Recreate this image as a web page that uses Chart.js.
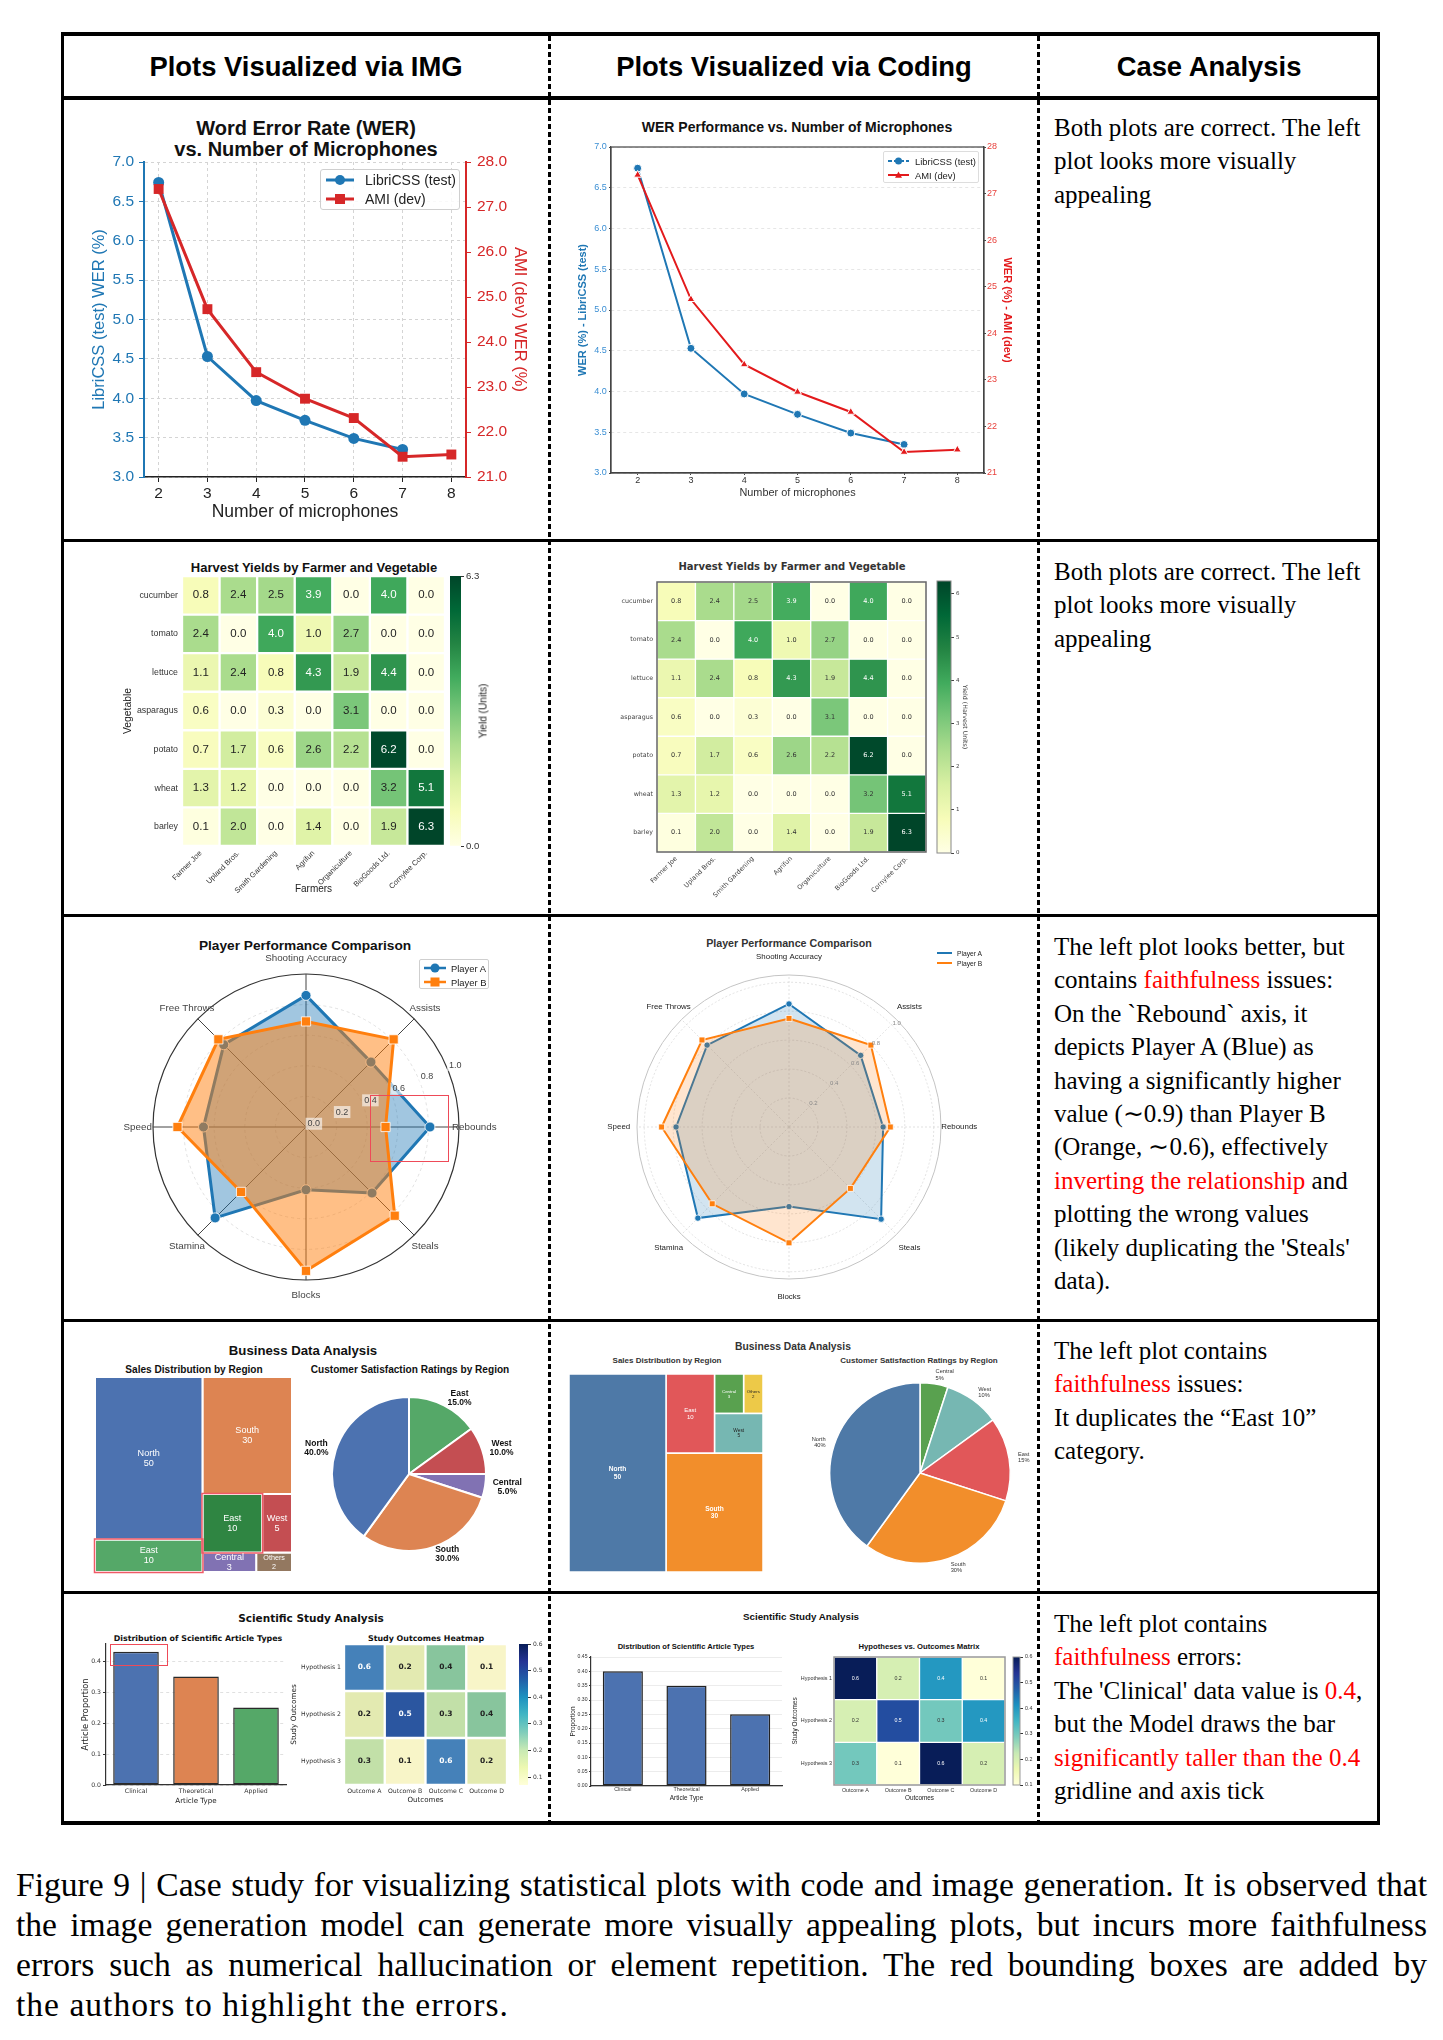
<!DOCTYPE html>
<html>
<head>
<meta charset="utf-8">
<title>Figure 9 - Case study</title>
<script src="https://cdn.jsdelivr.net/npm/chart.js"></script>
<style>
  html, body { margin: 0; padding: 0; background: #fff; }
  body { position: relative; width: 1443px; height: 2040px; overflow: hidden; font-family: 'Liberation Sans', Arial, sans-serif; color: #111; }
  .rule { position: absolute; background: #000; }
  .dash { position: absolute; width: 3px; background: repeating-linear-gradient(to bottom, #000 0 5px, transparent 5px 8px); }
  .t { position: absolute; white-space: nowrap; transform: translate(-50%, -50%); text-align: center; }
  .head { font: bold 27.4px 'Liberation Sans', Arial, sans-serif; color: #000; }
  .note { position: absolute; left: 1054px; font: 25px/33.4px 'Liberation Serif', 'Times New Roman', serif; color: #000; white-space: nowrap; }
  .r { color: #f00; }
  .cap { position: absolute; left: 16px; top: 1865px; width: 1411px; font: 33.6px/40px 'Liberation Serif', 'Times New Roman', serif; color: #000; }
  .cap div { text-align: justify; text-align-last: justify; }
  .cap div.last { text-align-last: left; letter-spacing: 1px; }
  .hi { position: absolute; border: 1.5px solid #ee4a58; box-sizing: border-box; }
  .lg { position: absolute; box-sizing: border-box; }
</style>
</head>
<body>

<!-- table rules -->
<div class="rule" style="left:61px;top:32px;width:1319px;height:4px"></div>
<div class="rule" style="left:61px;top:96px;width:1319px;height:4px"></div>
<div class="rule" style="left:61px;top:539px;width:1319px;height:3px"></div>
<div class="rule" style="left:61px;top:914px;width:1319px;height:3px"></div>
<div class="rule" style="left:61px;top:1319px;width:1319px;height:3px"></div>
<div class="rule" style="left:61px;top:1591px;width:1319px;height:3px"></div>
<div class="rule" style="left:61px;top:1821px;width:1319px;height:4px"></div>
<div class="rule" style="left:61px;top:32px;width:3px;height:1793px"></div>
<div class="rule" style="left:1377px;top:32px;width:3px;height:1793px"></div>
<div class="dash" style="left:548px;top:36px;height:1785px"></div>
<div class="dash" style="left:1037px;top:36px;height:1785px"></div>

<!-- header -->
<div class="t head" style="left:306px;top:67px">Plots Visualized via IMG</div>
<div class="t head" style="left:794px;top:67px">Plots Visualized via Coding</div>
<div class="t head" style="left:1209px;top:67px">Case Analysis</div>

<!-- case analysis column -->
<div class="note" style="top:111px">Both plots are correct. The left<br>plot looks more visually<br>appealing</div>
<div class="note" style="top:555px">Both plots are correct. The left<br>plot looks more visually<br>appealing</div>
<div class="note" style="top:930px">The left plot looks better, but<br>contains <span class="r">faithfulness</span> issues:<br>On the `Rebound` axis, it<br>depicts Player A (Blue) as<br>having a significantly higher<br>value (∼0.9) than Player B<br>(Orange, ∼0.6), effectively<br><span class="r">inverting the relationship</span> and<br>plotting the wrong values<br>(likely duplicating the 'Steals'<br>data).</div>
<div class="note" style="top:1334px">The left plot contains<br><span class="r">faithfulness</span> issues:<br>It duplicates the “East 10”<br>category.</div>
<div class="note" style="top:1607px">The left plot contains<br><span class="r">faithfulness</span> errors:<br>The 'Clinical' data value is <span class="r">0.4</span>,<br>but the Model draws the bar<br><span class="r">significantly taller than the 0.4</span><br>gridline and axis tick</div>

<!-- caption -->
<div class="cap">
  <div>Figure 9 | Case study for visualizing statistical plots with code and image generation. It is observed that</div>
  <div>the image generation model can generate more visually appealing plots, but incurs more faithfulness</div>
  <div>errors such as numerical hallucination or element repetition. The red bounding boxes are added by</div>
  <div class="last">the authors to highlight the errors.</div>
</div>

<script>
// ---------- data ----------
// row 1: WER vs number of microphones
const mics = [2, 3, 4, 5, 6, 7, 8];
const libriWer = [6.74, 4.53, 3.97, 3.72, 3.49, 3.35, null];
const amiWer = [27.40, 24.73, 23.33, 22.74, 22.31, 21.45, 21.50];
const libriTicks = [3.0, 3.5, 4.0, 4.5, 5.0, 5.5, 6.0, 6.5, 7.0];
const amiTicks = [21, 22, 23, 24, 25, 26, 27, 28];

// row 2: harvest heatmap
const vegetables = ['cucumber', 'tomato', 'lettuce', 'asparagus', 'potato', 'wheat', 'barley'];
const farmers = ['Farmer Joe', 'Upland Bros.', 'Smith Gardening', 'Agrifun', 'Organiculture', 'BioGoods Ltd.', 'Cornylee Corp.'];
const harvest = [
  [0.8, 2.4, 2.5, 3.9, 0.0, 4.0, 0.0],
  [2.4, 0.0, 4.0, 1.0, 2.7, 0.0, 0.0],
  [1.1, 2.4, 0.8, 4.3, 1.9, 4.4, 0.0],
  [0.6, 0.0, 0.3, 0.0, 3.1, 0.0, 0.0],
  [0.7, 1.7, 0.6, 2.6, 2.2, 6.2, 0.0],
  [1.3, 1.2, 0.0, 0.0, 0.0, 3.2, 5.1],
  [0.1, 2.0, 0.0, 1.4, 0.0, 1.9, 6.3]
];
const yieldTicksImg = [0, 6.3];
const yieldTicksCode = [0, 1, 2, 3, 4, 5, 6];

// row 3: player radar
const skills = ['Shooting Accuracy', 'Assists', 'Rebounds', 'Steals', 'Blocks', 'Stamina', 'Speed', 'Free Throws'];
const imgPlayerA = [0.86, 0.60, 0.81, 0.61, 0.41, 0.84, 0.67, 0.76];
const imgPlayerB = [0.69, 0.81, 0.52, 0.82, 0.94, 0.60, 0.84, 0.81];
const codePlayerA = [0.85, 0.70, 0.65, 0.90, 0.55, 0.89, 0.78, 0.80];
const codePlayerB = [0.75, 0.80, 0.70, 0.60, 0.80, 0.75, 0.88, 0.85];
const imgRadarTicks = [0.0, 0.2, 0.4, 0.6, 0.8, 1.0];
const codeRadarTicks = [0.2, 0.4, 0.6, 0.8, 1.0];

// row 4: sales treemap + satisfaction pie
const imgTreeLabels = ['North', 'East', 'South', 'East', 'West', 'Central', 'Others'];
const imgTreeSales = [50, 10, 30, 10, 5, 3, 2];
const codeTreeLabels = ['North', 'South', 'East', 'West', 'Central', 'Others'];
const codeTreeSales = [50, 30, 10, 5, 3, 2];
const imgPieLabels = ['North', 'South', 'Central', 'West', 'East'];
const imgPieShare = [40, 30, 5, 10, 15];
const codePieLabels = ['North', 'South', 'East', 'West', 'Central'];
const codePieShare = [40, 30, 15, 10, 5];

// row 5: article types + study outcomes
const articleTypes = ['Clinical', 'Theoretical', 'Applied'];
const imgArticleShare = [0.43, 0.35, 0.25];
const codeArticleShare = [0.40, 0.35, 0.25];
const imgShareTicks = [0.0, 0.1, 0.2, 0.3, 0.4];
const codeShareTicks = [0.00, 0.05, 0.10, 0.15, 0.20, 0.25, 0.30, 0.35, 0.40, 0.45];
const hypotheses = ['Hypothesis 1', 'Hypothesis 2', 'Hypothesis 3'];
const outcomes = ['Outcome A', 'Outcome B', 'Outcome C', 'Outcome D'];
const studyMatrix = [
  [0.6, 0.2, 0.4, 0.1],
  [0.2, 0.5, 0.3, 0.4],
  [0.3, 0.1, 0.6, 0.2]
];
const studyTicks = [0.1, 0.2, 0.3, 0.4, 0.5, 0.6];

// ---------- styles ----------
const LS = "'Liberation Sans', Arial, sans-serif";
const DV = "'DejaVu Sans', sans-serif";
const BLUE = '#1f77b4', RED = '#d62728', ORANGE = '#ff7f0e';
const DEEP = { blue: '#4c72b0', orange: '#dd8452', green: '#55a868', dgreen: '#2f8542', red: '#c44e52', purple: '#8172b3', brown: '#937860' };
const TAB = { blue: '#4e79a7', orange: '#f28e2b', red: '#e15759', teal: '#76b7b2', green: '#59a14f', yellow: '#edc948' };
const YLGN = ['#ffffe5', '#f7fcb9', '#d9f0a3', '#addd8e', '#78c679', '#41ab5d', '#238443', '#006837', '#004529'];
const YLGNBU = ['#ffffd9', '#edf8b1', '#c7e9b4', '#7fcdbb', '#41b6c4', '#1d91c0', '#225ea8', '#253494', '#081d58'];
// the generated image colours its study heatmap by value, not by a monotonic map
const imgStudyColor = { '0.1': '#f8f5c8', '0.2': '#e3eab1', '0.3': '#c2e0a8', '0.4': '#88c59d', '0.5': '#2b56a0', '0.6': '#4581b9' };
const imgTreeColors = [DEEP.blue, DEEP.green, DEEP.orange, DEEP.dgreen, DEEP.red, DEEP.purple, DEEP.brown];
const codeTreeColors = [TAB.blue, TAB.orange, TAB.red, TAB.teal, TAB.green, TAB.yellow];
const imgPieColors = { North: DEEP.blue, South: DEEP.orange, Central: DEEP.purple, West: DEEP.red, East: DEEP.green };
const codePieColors = { North: TAB.blue, South: TAB.orange, East: TAB.red, West: TAB.teal, Central: TAB.green };

// ---------- helpers ----------
const page = document.body;
function put(html, css, cls) {
  const d = document.createElement('div');
  if (cls) d.className = cls;
  d.style.cssText = css;
  d.innerHTML = html;
  page.appendChild(d);
  return d;
}
function label(x, y, s, font, color, rot) {
  return put(s, `left:${x}px;top:${y}px;font:${font};color:${color || '#111'};` +
    (rot ? `transform:translate(-50%,-50%) rotate(${rot}deg);` : ''), 't');
}
function canvasAt(x, y, w, h) {
  const d = put('', `position:absolute;left:${x}px;top:${y}px;width:${w}px;height:${h}px;`);
  const c = document.createElement('canvas');
  d.appendChild(c);
  return c;
}
const fnt = (size, weight, family) => ({ size, weight: weight || 'normal', family: family || LS });

function hex2rgb(h) { return [1, 3, 5].map(i => parseInt(h.slice(i, i + 2), 16)); }
function cmap(stops, t) {
  t = Math.max(0, Math.min(1, t));
  const n = stops.length - 1;
  const i = Math.min(n - 1, Math.floor(t * n));
  const f = t * n - i;
  const a = hex2rgb(stops[i]), b = hex2rgb(stops[i + 1]);
  return 'rgb(' + a.map((v, k) => Math.round(v + (b[k] - v) * f)).join(',') + ')';
}

function marker(it, x, y, s) {
  if (it.marker === 'circle') return `<circle cx="${x}" cy="${y}" r="${s}" fill="${it.color}"/>`;
  if (it.marker === 'square') return `<rect x="${x - s}" y="${y - s}" width="${2 * s}" height="${2 * s}" fill="${it.color}"/>`;
  if (it.marker === 'triangle') return `<polygon points="${x},${y - s} ${x + s},${y + s * 0.8} ${x - s},${y + s * 0.8}" fill="${it.color}"/>`;
  return '';
}
function legend(x, y, w, h, items, o) {
  const d = put('', `left:${x}px;top:${y}px;width:${w}px;height:${h}px;` +
    (o.border ? `border:1px solid ${o.border};border-radius:${o.radius || 0}px;background:rgba(255,255,255,0.85);` : ''), 'lg');
  items.forEach((it, k) => {
    const cy = o.rows[k];
    d.insertAdjacentHTML('beforeend',
      `<svg width="${o.lineW + 2}" height="14" style="position:absolute;left:${o.lineX}px;top:${cy - 7}px;overflow:visible">` +
      `<line x1="1" y1="7" x2="${o.lineW + 1}" y2="7" stroke="${it.color}" stroke-width="${o.lw}"${it.dash ? ` stroke-dasharray="${it.dash}"` : ''}/>` +
      marker(it, o.lineW / 2 + 1, 7, o.ms) + '</svg>' +
      `<span style="position:absolute;left:${o.textX}px;top:${cy}px;transform:translateY(-50%);font:${o.font};color:#222;white-space:nowrap">${it.label}</span>`);
  });
}

// treemap layouts
function sliceDice(node, vals, x, y, w, h, horiz, out) {
  if (typeof node === 'number') { out[node] = { x, y, w, h }; return out; }
  const sum = n => typeof n === 'number' ? vals[n] : n.reduce((a, c) => a + sum(c), 0);
  const tot = sum(node);
  let off = 0;
  node.forEach(ch => {
    const f = sum(ch) / tot;
    if (horiz) sliceDice(ch, vals, x + off * w, y, f * w, h, false, out);
    else sliceDice(ch, vals, x, y + off * h, w, f * h, true, out);
    off += f;
  });
  return out;
}
function layoutRects(s, x, y, dx, dy) {
  const tot = s.reduce((a, b) => a + b, 0);
  const out = [];
  if (dx >= dy) { const w = tot / dy; s.forEach(v => { out.push({ x, y, w, h: v / w }); y += v / w; }); }
  else { const h = tot / dx; s.forEach(v => { out.push({ x, y, w: v / h, h }); x += v / h; }); }
  return out;
}
function leftover(s, x, y, dx, dy) {
  const tot = s.reduce((a, b) => a + b, 0);
  if (dx >= dy) { const w = tot / dy; return [x + w, y, dx - w, dy]; }
  const h = tot / dx;
  return [x, y + h, dx, dy - h];
}
function worst(s, x, y, dx, dy) {
  return Math.max(...layoutRects(s, x, y, dx, dy).map(r => Math.max(r.w / r.h, r.h / r.w)));
}
function squarify(vals, x, y, dx, dy) {
  if (!vals.length) return [];
  if (vals.length === 1) return layoutRects(vals, x, y, dx, dy);
  let i = 1;
  while (i < vals.length && worst(vals.slice(0, i), x, y, dx, dy) >= worst(vals.slice(0, i + 1), x, y, dx, dy)) i++;
  const lo = leftover(vals.slice(0, i), x, y, dx, dy);
  return layoutRects(vals.slice(0, i), x, y, dx, dy).concat(squarify(vals.slice(i), lo[0], lo[1], lo[2], lo[3]));
}
const imgTreeLayout = [[0, 1], [2, [3, 4], [5, 6]]];

// ---------- Chart.js setup ----------
Chart.defaults.animation = false;
Chart.defaults.responsive = true;
Chart.defaults.maintainAspectRatio = false;
Chart.defaults.events = [];
Chart.defaults.plugins.legend.display = false;
Chart.defaults.plugins.tooltip.enabled = false;
Chart.defaults.font.family = LS;
Chart.defaults.color = '#222';

// box around the plot area (matplotlib spines)
Chart.register({
  id: 'frame',
  afterDatasetsDraw(chart, args, o) {
    if (!o || !o.color) return;
    const a = chart.chartArea, ctx = chart.ctx;
    ctx.save();
    ctx.strokeStyle = o.color;
    ctx.lineWidth = o.width || 1;
    ctx.strokeRect(a.left, a.top, a.right - a.left, a.bottom - a.top);
    ctx.restore();
  }
});

function cellLabels(values, c) {
  return {
    id: 'cellLabels',
    afterDatasetsDraw(chart) {
      const ctx = chart.ctx;
      ctx.save();
      ctx.font = c.font; ctx.textAlign = 'center'; ctx.textBaseline = 'middle';
      chart.data.datasets.forEach((ds, r) => {
        chart.getDatasetMeta(r).data.forEach((bar, k) => {
          const v = values[r][k];
          ctx.fillStyle = c.color(v);
          ctx.fillText(v.toFixed(1), bar.x, (bar.y + bar.base) / 2);
        });
      });
      ctx.restore();
    }
  };
}

function heatmap(cv, p) {
  return new Chart(cv, {
    type: 'bar',
    data: {
      labels: p.cols,
      datasets: p.rows.map((row, r) => ({
        label: row,
        data: p.cols.map(() => 1),
        backgroundColor: p.values[r].map(p.color),
        borderColor: '#fff', borderWidth: p.bw, borderSkipped: false,
        barPercentage: 1, categoryPercentage: 1
      }))
    },
    options: {
      layout: { padding: p.pad },
      scales: {
        x: {
          stacked: true,
          grid: { display: false, drawTicks: false }, border: { display: false },
          ticks: { autoSkip: false, maxRotation: p.xTicks.rot, minRotation: p.xTicks.rot, font: p.xTicks.font, color: p.xTicks.color, padding: p.xTicks.padding },
          title: p.xTitle || { display: false },
          afterFit: s => { s.height = p.bottom; }
        },
        y: {
          stacked: true, min: 0, max: p.rows.length, reverse: true,
          grid: { display: false, drawTicks: false }, border: { display: false },
          afterBuildTicks: s => { s.ticks = p.rows.map((_, i) => ({ value: i + 0.5 })); },
          ticks: { autoSkip: false, callback: (v, i) => p.rows[i], font: p.yTicks.font, color: p.yTicks.color, padding: p.yTicks.padding },
          title: p.yTitle || { display: false },
          afterFit: s => { s.width = p.left; }
        }
      },
      plugins: { frame: p.frame || {} }
    },
    plugins: [cellLabels(p.values, p.cell)]
  });
}

function colorbar(cv, p) {
  return new Chart(cv, {
    type: 'bar',
    data: {
      labels: [''],
      datasets: [{
        data: [[p.min, p.max]], barPercentage: 1, categoryPercentage: 1, borderWidth: 0,
        backgroundColor: c => {
          const a = c.chart.chartArea;
          if (!a) return 'transparent';
          const g = c.chart.ctx.createLinearGradient(0, a.bottom, 0, a.top);
          p.stops.forEach((s, i) => g.addColorStop(i / (p.stops.length - 1), s));
          return g;
        }
      }]
    },
    options: {
      layout: { padding: p.pad },
      scales: {
        x: { display: false },
        y: {
          position: 'right', min: p.min, max: p.max,
          afterBuildTicks: s => { s.ticks = p.ticks.map(v => ({ value: v })); },
          ticks: { callback: p.fmt, font: p.font, color: p.color, padding: 2 },
          grid: { drawOnChartArea: false, drawTicks: true, tickLength: 3, tickColor: p.color },
          border: { display: false },
          title: p.title || { display: false },
          afterFit: s => { s.width = p.w; }
        }
      },
      plugins: { frame: p.frame || {} }
    }
  });
}

function radarText(p) {
  return {
    id: 'radarText',
    afterDatasetsDraw(chart) {
      const s = chart.scales.r, ctx = chart.ctx;
      ctx.save();
      ctx.textAlign = 'center'; ctx.textBaseline = 'middle';
      ctx.font = p.labelFont; ctx.fillStyle = p.labelColor;
      skills.forEach((name, i) => {
        const pt = s.getPointPositionForValue(i, p.labelAt);
        ctx.fillText(name, pt.x, pt.y);
      });
      ctx.font = p.tickFont;
      const th = p.tickAngle * Math.PI / 180;
      p.ticks.forEach(v => {
        const d = s.getDistanceFromCenterForValue(v) + p.tickOff;
        const x = s.xCenter + Math.cos(th) * d, y = s.yCenter - Math.sin(th) * d;
        const txt = v.toFixed(1);
        if (p.tickBg) {
          const w = ctx.measureText(txt).width;
          ctx.fillStyle = p.tickBg;
          ctx.fillRect(x - w / 2 - 2, y - 6, w + 4, 12);
        }
        ctx.fillStyle = p.tickColor;
        ctx.fillText(txt, x, y);
      });
      ctx.restore();
    }
  };
}

function radar(cv, p) {
  return new Chart(cv, {
    type: 'radar',
    data: {
      labels: skills,
      datasets: [
        { label: 'Player A', data: p.a, order: 1, fill: true, borderColor: BLUE, backgroundColor: p.fillA, borderWidth: p.lw,
          pointStyle: 'circle', pointRadius: p.rA, pointBackgroundColor: BLUE, pointBorderColor: p.pEdge, pointBorderWidth: p.pEdgeW },
        { label: 'Player B', data: p.b, order: 0, fill: true, borderColor: ORANGE, backgroundColor: p.fillB, borderWidth: p.lw,
          pointStyle: 'rect', pointRadius: p.rB, pointBackgroundColor: ORANGE, pointBorderColor: p.pEdge, pointBorderWidth: p.pEdgeW }
      ]
    },
    options: {
      layout: { padding: p.pad },
      scales: {
        r: {
          min: 0, max: p.max,
          ticks: { display: false, stepSize: 0.2 },
          pointLabels: { display: false },
          grid: { circular: true, color: p.gridColor, lineWidth: p.gridWidth },
          border: { dash: p.gridDash },
          angleLines: { color: p.angleColor, lineWidth: p.angleWidth, borderDash: p.angleDash }
        }
      }
    },
    plugins: [radarText(p.text)]
  });
}

function treeText(p) {
  return {
    id: 'treeText',
    afterDatasetsDraw(chart) {
      const ctx = chart.ctx;
      ctx.save();
      ctx.textAlign = 'center'; ctx.textBaseline = 'middle';
      chart.data.datasets.forEach((ds, i) => {
        const pts = chart.getDatasetMeta(i).data;
        const cx = (pts[0].x + pts[2].x) / 2, cy = (pts[0].y + pts[2].y) / 2;
        const st = p.style(i);
        ctx.font = st[0]; ctx.fillStyle = st[1];
        ctx.fillText(p.labels[i], cx, cy - st[2] / 2);
        ctx.fillText(String(p.values[i]), cx, cy + st[2] / 2);
        if (p.highlight && p.highlight.includes(i)) {
          const x0 = Math.min(pts[0].x, pts[2].x), y0 = Math.min(pts[0].y, pts[2].y);
          ctx.strokeStyle = '#ef5a66'; ctx.lineWidth = 1.5;
          ctx.strokeRect(x0 - 0.5, y0 - 0.5, Math.abs(pts[2].x - pts[0].x) + 1, Math.abs(pts[2].y - pts[0].y) + 1);
        }
      });
      ctx.restore();
    }
  };
}

function treemap(cv, p) {
  return new Chart(cv, {
    type: 'line',
    data: {
      datasets: p.rects.map((r, i) => ({
        label: p.labels[i],
        data: [{ x: r.x, y: r.y }, { x: r.x + r.w, y: r.y }, { x: r.x + r.w, y: r.y + r.h }, { x: r.x, y: r.y + r.h }, { x: r.x, y: r.y }],
        backgroundColor: p.colors[i], borderColor: '#fff', borderWidth: p.bw,
        fill: 'shape', pointRadius: 0, tension: 0, clip: 4
      }))
    },
    options: {
      layout: { padding: 3 },
      scales: {
        x: { type: 'linear', display: false, min: 0, max: 100 },
        y: { type: 'linear', display: false, min: 0, max: 100, reverse: p.reverse }
      }
    },
    plugins: [treeText(p)]
  });
}

function pieText(p) {
  return {
    id: 'pieText',
    afterDatasetsDraw(chart) {
      const ctx = chart.ctx, meta = chart.getDatasetMeta(0), data = chart.data.datasets[0].data;
      const tot = data.reduce((a, b) => a + b, 0);
      ctx.save();
      ctx.font = p.font; ctx.fillStyle = p.color; ctx.textBaseline = 'middle';
      meta.data.forEach((arc, i) => {
        const mid = (arc.startAngle + arc.endAngle) / 2, r = arc.outerRadius * p.dist;
        const ax = arc.x + Math.cos(mid) * r, ay = arc.y + Math.sin(mid) * r;
        const lines = [chart.data.labels[i], p.pct(data[i] / tot * 100)];
        const bw = Math.max(...lines.map(l => ctx.measureText(l).width));
        const right = Math.cos(mid) >= 0;
        const left = right ? ax : ax - bw;
        lines.forEach((l, k) => {
          const y = ay + (k - (lines.length - 1) / 2) * p.lh;
          if (p.center) { ctx.textAlign = 'center'; ctx.fillText(l, left + bw / 2, y); }
          else { ctx.textAlign = right ? 'left' : 'right'; ctx.fillText(l, right ? left : left + bw, y); }
        });
      });
      ctx.restore();
    }
  };
}

function pie(cv, p) {
  // matplotlib draws counter-clockwise from the top, Chart.js clockwise: reverse the order
  const labels = p.labels.slice().reverse();
  return new Chart(cv, {
    type: 'pie',
    data: {
      labels,
      datasets: [{ data: p.values.slice().reverse(), backgroundColor: labels.map(l => p.colors[l]), borderColor: '#fff', borderWidth: p.bw }]
    },
    options: { layout: { padding: p.pad } },
    plugins: [pieText(p.text)]
  });
}

// =============== ROW 1: WER line charts ===============
label(306, 138.5, 'Word Error Rate (WER)<br>vs. Number of Microphones', `bold 20px/21px ${LS}`, '#111');
new Chart(canvasAt(66, 100, 480, 438), {
  type: 'line',
  data: {
    datasets: [
      { label: 'LibriCSS (test)', data: mics.map((m, i) => ({ x: m, y: libriWer[i] })), yAxisID: 'y', order: 1,
        borderColor: BLUE, backgroundColor: BLUE, borderWidth: 3, pointRadius: 5.5, pointBorderWidth: 0 },
      { label: 'AMI (dev)', data: mics.map((m, i) => ({ x: m, y: amiWer[i] })), yAxisID: 'y1', order: 0,
        borderColor: RED, backgroundColor: RED, borderWidth: 3, pointStyle: 'rect', pointRadius: 7, pointBorderWidth: 0 }
    ]
  },
  options: {
    layout: { padding: { top: 62 } },
    scales: {
      x: {
        type: 'linear', min: 1.7, max: 8.3,
        afterBuildTicks: s => { s.ticks = mics.map(v => ({ value: v })); },
        grid: { color: '#d4d4d4', tickLength: 5, tickColor: '#222' },
        border: { color: '#222', width: 1.5, dash: [3, 3] },
        ticks: { font: fnt(15.5), color: '#222', padding: 2.7 },
        title: { display: true, text: 'Number of microphones', font: fnt(17.5), color: '#222', padding: { top: 0, bottom: 15.5 } },
        afterFit: s => { s.height = 61; }
      },
      y: {
        position: 'left', min: 3, max: 7,
        afterBuildTicks: s => { s.ticks = libriTicks.map(v => ({ value: v })); },
        grid: { color: '#d4d4d4', tickLength: 5, tickColor: BLUE },
        border: { color: BLUE, width: 2, dash: [3, 3] },
        ticks: { font: fnt(15.5), color: BLUE, padding: 5, callback: v => v.toFixed(1) },
        title: { display: true, text: 'LibriCSS (test) WER (%)', font: fnt(16.5), color: BLUE, padding: { top: 23.1, bottom: 0 } },
        afterFit: s => { s.width = 78; }
      },
      y1: {
        position: 'right', min: 21, max: 28,
        afterBuildTicks: s => { s.ticks = amiTicks.map(v => ({ value: v })); },
        grid: { drawOnChartArea: false, tickLength: 5, tickColor: RED },
        border: { color: RED, width: 2 },
        ticks: { font: fnt(15.5), color: RED, padding: 6, callback: v => v.toFixed(1) },
        title: { display: true, text: 'AMI (dev) WER (%)', font: fnt(16.5), color: RED, padding: { top: 16.1, bottom: 0 } },
        afterFit: s => { s.width = 80; }
      }
    }
  }
});
legend(320, 169, 140, 41, [
  { label: 'LibriCSS (test)', color: BLUE, marker: 'circle' },
  { label: 'AMI (dev)', color: RED, marker: 'square' }
], { rows: [10, 29], lineX: 4, lineW: 28, lw: 3, ms: 5, textX: 44, font: `14px ${LS}`, border: '#cfcfcf', radius: 3 });

label(797, 127, 'WER Performance vs. Number of Microphones', `bold 14px ${LS}`, '#111');
new Chart(canvasAt(556, 100, 478, 438), {
  type: 'line',
  data: {
    datasets: [
      { label: 'LibriCSS (test)', data: mics.map((m, i) => ({ x: m, y: libriWer[i] })), yAxisID: 'y', order: 1,
        borderColor: BLUE, backgroundColor: BLUE, borderWidth: 2, pointRadius: 4, pointBorderColor: '#fff', pointBorderWidth: 1 },
      { label: 'AMI (dev)', data: mics.map((m, i) => ({ x: m, y: amiWer[i] })), yAxisID: 'y1', order: 0,
        borderColor: '#e31a1c', backgroundColor: '#e31a1c', borderWidth: 2, pointStyle: 'triangle', pointRadius: 4.5, pointBorderColor: '#fff', pointBorderWidth: 1 }
    ]
  },
  options: {
    layout: { padding: { top: 47 } },
    scales: {
      x: {
        type: 'linear', min: 1.5, max: 8.5,
        afterBuildTicks: s => { s.ticks = mics.map(v => ({ value: v })); },
        grid: { drawOnChartArea: false, tickLength: 2, tickColor: '#444' },
        border: { color: '#444', width: 1.2 },
        ticks: { font: fnt(9), color: '#333', padding: 0 },
        title: { display: true, text: 'Number of microphones', font: fnt(10.9), color: '#333', padding: { top: 0, bottom: 38.5 } },
        afterFit: s => { s.height = 65; }
      },
      y: {
        position: 'left', min: 3, max: 7,
        afterBuildTicks: s => { s.ticks = libriTicks.map(v => ({ value: v })); },
        grid: { color: '#e6e6e6', tickLength: 2, tickColor: '#444' },
        border: { color: '#444', width: 1.2, dash: [3, 3] },
        ticks: { font: fnt(9), color: '#3b8fd4', padding: 2.3, callback: v => v.toFixed(1) },
        title: { display: true, text: 'WER (%) - LibriCSS (test)', font: fnt(11, 'bold'), color: BLUE, padding: { top: 20.4, bottom: 0 } },
        afterFit: s => { s.width = 55; }
      },
      y1: {
        position: 'right', min: 21, max: 28,
        afterBuildTicks: s => { s.ticks = amiTicks.map(v => ({ value: v })); },
        grid: { drawOnChartArea: false, tickLength: 2, tickColor: '#444' },
        border: { color: '#444', width: 1.2 },
        ticks: { font: fnt(9), color: '#e8413c', padding: 1 },
        title: { display: true, text: 'WER (%) - AMI (dev)', font: fnt(11, 'bold'), color: '#e31a1c', padding: { top: 20.4, bottom: 0 } },
        afterFit: s => { s.width = 50; }
      }
    },
    plugins: { frame: { color: '#444', width: 1.2 } }
  }
});
legend(883, 151, 96, 32, [
  { label: 'LibriCSS (test)', color: BLUE, marker: 'circle', dash: '4 2' },
  { label: 'AMI (dev)', color: '#e31a1c', marker: 'triangle' }
], { rows: [9, 23], lineX: 3, lineW: 21, lw: 2, ms: 3.5, textX: 31, font: `9.4px ${LS}`, border: '#dddddd', radius: 2 });

// =============== ROW 2: harvest heatmaps ===============
label(314, 567, 'Harvest Yields by Farmer and Vegetable', `bold 13px ${LS}`, '#111');
heatmap(canvasAt(66, 545, 480, 368), {
  rows: vegetables, cols: farmers, values: harvest, color: v => cmap(YLGN, v / 6.3), bw: 1.5,
  cell: { font: `11.5px ${LS}`, color: v => v > 3.5 ? '#fff' : '#222' },
  pad: { top: 31, right: 101 }, left: 116, bottom: 67,
  yTicks: { font: fnt(8.8), color: '#333', padding: 4 },
  xTicks: { font: fnt(7.5), color: '#333', padding: 3, rot: 45 },
  xTitle: { display: true, text: 'Farmers', font: fnt(10), color: '#222', padding: { top: 0, bottom: 18 } },
  yTitle: { display: true, text: 'Vegetable', font: fnt(10.4), color: '#222', padding: { top: 55.7, bottom: 0 } }
});
colorbar(canvasAt(440, 545, 100, 368), {
  stops: YLGN, min: 0, max: 6.3, ticks: yieldTicksImg, fmt: v => v.toFixed(1), font: fnt(9.6), color: '#333',
  pad: { left: 10, top: 31, bottom: 67 }, w: 79
});
label(483, 711, 'Yield (Units)', `10.1px ${LS}`, '#222', -90);

label(792, 566, 'Harvest Yields by Farmer and Vegetable', `bold 10px ${DV}`, '#333');
heatmap(canvasAt(556, 545, 380, 368), {
  rows: vegetables, cols: farmers, values: harvest, color: v => cmap(YLGN, v / 6.3), bw: 1,
  cell: { font: `6.5px ${DV}`, color: v => v > 3.5 ? '#fff' : '#333' },
  pad: { top: 37, right: 10 }, left: 101, bottom: 61,
  yTicks: { font: fnt(6.3, 'normal', DV), color: '#444', padding: 4 },
  xTicks: { font: fnt(6.5, 'normal', DV), color: '#444', padding: 3, rot: 45 },
  frame: { color: '#666', width: 1.5 }
});
colorbar(canvasAt(930, 545, 100, 368), {
  stops: YLGN, min: 0, max: 6.3, ticks: yieldTicksCode, fmt: v => String(v), font: fnt(5.5, 'normal', DV), color: '#444',
  pad: { left: 7, top: 36, bottom: 60 }, w: 79,
  title: { display: true, text: 'Yield (Harvest Units)', font: fnt(6.3, 'normal', DV), color: '#444', padding: { top: 61.2, bottom: 0 } },
  frame: { color: '#888', width: 1 }
});

// =============== ROW 3: radar charts ===============
label(305, 945, 'Player Performance Comparison', `bold 13.7px ${LS}`, '#111');
radar(canvasAt(86, 950, 440, 360), {
  a: imgPlayerA, b: imgPlayerB, max: 1,
  pad: { left: 67, right: 67, top: 24, bottom: 30 },
  fillA: 'rgba(31,119,180,0.42)', fillB: 'rgba(255,127,14,0.5)', lw: 3, rA: 5, rB: 6.5,
  pEdge: 'rgba(255,255,255,0.8)', pEdgeW: 1,
  gridColor: c => c.tick && c.tick.value >= 1 ? '#333' : '#d9d9d9',
  gridWidth: c => c.tick && c.tick.value >= 1 ? 1.2 : 0.8,
  gridDash: c => c.tick && c.tick.value >= 1 ? [] : [3, 3],
  angleColor: '#444', angleWidth: 1, angleDash: [],
  text: { labelAt: 1.1, labelFont: `9.8px ${LS}`, labelColor: '#444', ticks: imgRadarTicks, tickFont: `9px ${LS}`,
          tickColor: '#444', tickAngle: 22.5, tickOff: 8.5, tickBg: 'rgba(255,255,255,0.6)' }
});
legend(419, 959, 70, 30, [
  { label: 'Player A', color: BLUE, marker: 'circle' },
  { label: 'Player B', color: ORANGE, marker: 'square' }
], { rows: [8, 22], lineX: 3, lineW: 22, lw: 2.5, ms: 4.5, textX: 31, font: `9.4px ${LS}`, border: '#cfcfcf', radius: 2 });
put('', 'left:370px;top:1095px;width:79px;height:67px', 'hi');

label(789, 943, 'Player Performance Comparison', `bold 10.7px ${LS}`, '#333');
radar(canvasAt(560, 950, 460, 360), {
  a: codePlayerA, b: codePlayerB, max: 1.05,
  pad: { left: 77, right: 79, top: 25, bottom: 31 },
  fillA: 'rgba(31,119,180,0.2)', fillB: 'rgba(255,127,14,0.2)', lw: 2, rA: 3.2, rB: 4.2,
  pEdge: '#fff', pEdgeW: 0.8,
  gridColor: c => c.tick && c.tick.value > 1 ? '#c4c4c4' : '#dadada',
  gridWidth: c => c.tick && c.tick.value > 1 ? 1 : 0.8,
  gridDash: c => c.tick && c.tick.value > 1 ? [] : [2, 2],
  angleColor: '#dadada', angleWidth: 0.8, angleDash: [2, 2],
  text: { labelAt: 1.176, labelFont: `7.9px ${LS}`, labelColor: '#222', ticks: codeRadarTicks, tickFont: `6px ${LS}`,
          tickColor: '#888', tickAngle: 44, tickOff: 5, tickBg: null }
});
legend(936, 948, 60, 22, [
  { label: 'Player A', color: BLUE },
  { label: 'Player B', color: ORANGE }
], { rows: [5, 15], lineX: 0, lineW: 15, lw: 2, ms: 0, textX: 21, font: `6.7px ${LS}` });

// =============== ROW 4: treemaps + pies ===============
label(303, 1350, 'Business Data Analysis', `bold 13.2px ${LS}`, '#111');
label(194, 1369, 'Sales Distribution by Region', `bold 10.1px ${LS}`, '#111');
label(410, 1369, 'Customer Satisfaction Ratings by Region', `bold 10.1px ${LS}`, '#111');
treemap(canvasAt(92, 1374, 203, 201), {
  rects: sliceDice(imgTreeLayout, imgTreeSales, 0, 0, 100, 100, true, []),
  labels: imgTreeLabels, values: imgTreeSales, colors: imgTreeColors, bw: 2, reverse: true,
  style: i => imgTreeLabels[i] === 'Others' ? [`7.2px ${LS}`, '#fff', 9] : [`9.1px ${LS}`, '#fff', 10],
  highlight: [1, 3]
});
pie(canvasAt(300, 1375, 240, 205), {
  labels: imgPieLabels, values: imgPieShare, colors: imgPieColors, bw: 2,
  pad: { left: 31, top: 21, right: 53, bottom: 28 },
  text: { font: `bold 8.5px ${LS}`, color: '#111', dist: 1.1, lh: 9, center: true, pct: v => v.toFixed(1) + '%' }
});

label(793, 1346, 'Business Data Analysis', `bold 10.3px ${LS}`, '#333');
label(667, 1360, 'Sales Distribution by Region', `bold 8px ${LS}`, '#333');
label(919, 1360, 'Customer Satisfaction Ratings by Region', `bold 8px ${LS}`, '#333');
const codeTreeStyle = {
  North: [`bold 6.6px ${LS}`, '#fff', 7.5], South: [`bold 6.6px ${LS}`, '#fff', 7.5], East: [`6px ${LS}`, '#fff', 6.5],
  West: [`4.8px ${LS}`, '#222', 5.5], Central: [`4.4px ${LS}`, '#fff', 5], Others: [`4.4px ${LS}`, '#222', 5]
};
const codeTotal = codeTreeSales.reduce((a, b) => a + b, 0);
treemap(canvasAt(566, 1371, 200, 204), {
  rects: squarify(codeTreeSales.map(v => v * 10000 / codeTotal), 0, 0, 100, 100),
  labels: codeTreeLabels, values: codeTreeSales, colors: codeTreeColors, bw: 1.5, reverse: false,
  style: i => codeTreeStyle[codeTreeLabels[i]]
});
pie(canvasAt(780, 1360, 260, 230), {
  labels: codePieLabels, values: codePieShare, colors: codePieColors, bw: 1.5,
  pad: { left: 49, top: 22, right: 29, bottom: 26 },
  text: { font: `5.7px ${LS}`, color: '#333', dist: 1.1, lh: 6.3, center: false, pct: v => v.toFixed(0) + '%' }
});

// =============== ROW 5: bars + study heatmaps ===============
label(311, 1618, 'Scientific Study Analysis', `bold 10.5px ${DV}`, '#111');
label(198, 1638, 'Distribution of Scientific Article Types', `bold 7.9px ${DV}`, '#111');
label(426, 1638, 'Study Outcomes Heatmap', `bold 7.9px ${DV}`, '#111');
new Chart(canvasAt(66, 1630, 235, 185), {
  type: 'bar',
  data: {
    labels: articleTypes,
    datasets: [{ data: imgArticleShare, backgroundColor: [DEEP.blue, DEEP.orange, DEEP.green], borderColor: '#2a2a2a',
                 borderWidth: 1.5, borderSkipped: false, barPercentage: 0.76, categoryPercentage: 1 }]
  },
  options: {
    layout: { padding: { top: 14, right: 15 } },
    scales: {
      x: {
        grid: { display: false, drawTicks: false }, border: { color: '#333', width: 1.2 },
        ticks: { font: fnt(6.2, 'normal', DV), color: '#333', padding: 2.3 },
        title: { display: true, text: 'Article Type', font: fnt(7.1, 'normal', DV), color: '#222', padding: { top: 0, bottom: 9.9 } },
        afterFit: s => { s.height = 30; }
      },
      y: {
        min: 0, max: 0.455,
        afterBuildTicks: s => { s.ticks = imgShareTicks.map(v => ({ value: v })); },
        grid: { color: '#e0e0e0', tickLength: 3, tickColor: '#333' },
        border: { color: '#333', width: 1.2, dash: [3, 3] },
        ticks: { font: fnt(6.2, 'normal', DV), color: '#333', padding: 2, callback: v => v.toFixed(1) },
        title: { display: true, text: 'Article Proportion', font: fnt(8.3, 'normal', DV), color: '#222', padding: { top: 15.2, bottom: 0 } },
        afterFit: s => { s.width = 40; }
      }
    }
  }
});
put('', 'left:110px;top:1644px;width:58px;height:22px', 'hi');
heatmap(canvasAt(285, 1630, 231, 185), {
  rows: hypotheses, cols: outcomes, values: studyMatrix, color: v => imgStudyColor[v.toFixed(1)], bw: 1.5,
  cell: { font: `bold 7.5px ${DV}`, color: v => v >= 0.5 ? '#fff' : '#222' },
  pad: { top: 14, right: 9 }, left: 59, bottom: 30,
  yTicks: { font: fnt(6.15, 'normal', DV), color: '#333', padding: 3 },
  xTicks: { font: fnt(6.15, 'normal', DV), color: '#333', padding: 2.3, rot: 0 },
  xTitle: { display: true, text: 'Outcomes', font: fnt(7.1, 'normal', DV), color: '#222', padding: { top: 0, bottom: 10.7 } },
  yTitle: { display: true, text: 'Study Outcomes', font: fnt(7.3, 'normal', DV), color: '#222', padding: { top: 4.6, bottom: 0 } }
});
colorbar(canvasAt(510, 1630, 40, 185), {
  stops: YLGNBU, min: 0.07, max: 0.6, ticks: studyTicks, fmt: v => v.toFixed(1), font: fnt(6, 'normal', DV), color: '#333',
  pad: { left: 9, top: 14, bottom: 30 }, w: 22
});

label(801, 1616, 'Scientific Study Analysis', `bold 9.8px ${LS}`, '#111');
label(686, 1646, 'Distribution of Scientific Article Types', `bold 7.6px ${LS}`, '#111');
label(919, 1646, 'Hypotheses vs. Outcomes Matrix', `bold 7.7px ${LS}`, '#111');
new Chart(canvasAt(560, 1640, 232, 170), {
  type: 'bar',
  data: {
    labels: articleTypes,
    datasets: [{ data: codeArticleShare, backgroundColor: DEEP.blue, borderColor: '#222',
                 borderWidth: 1.5, borderSkipped: false, barPercentage: 0.63, categoryPercentage: 1 }]
  },
  options: {
    layout: { padding: { top: 17, right: 10 } },
    scales: {
      x: {
        grid: { display: false, drawTicks: false }, border: { color: '#333', width: 1.2 },
        ticks: { font: fnt(5.3), color: '#333', padding: 0.8 },
        title: { display: true, text: 'Article Type', font: fnt(6.4), color: '#222', padding: { top: 0, bottom: 8.2 } },
        afterFit: s => { s.height = 24; }
      },
      y: {
        min: 0, max: 0.45,
        afterBuildTicks: s => { s.ticks = codeShareTicks.map(v => ({ value: v })); },
        grid: { color: '#ececec', tickLength: 2, tickColor: '#333' },
        border: { color: '#333', width: 1.2 },
        ticks: { font: fnt(5.1), color: '#333', padding: 1.5, callback: v => v.toFixed(2) },
        title: { display: true, text: 'Proportion', font: fnt(6.5), color: '#222', padding: { top: 9.1, bottom: 0 } },
        afterFit: s => { s.width = 31; }
      }
    }
  }
});
heatmap(canvasAt(788, 1640, 222, 170), {
  rows: hypotheses, cols: outcomes, values: studyMatrix, color: v => cmap(YLGNBU, (v - 0.1) / 0.5), bw: 1,
  cell: { font: `5.3px ${LS}`, color: v => v >= 0.4 ? '#fff' : '#333' },
  pad: { top: 17, right: 5 }, left: 46, bottom: 25,
  yTicks: { font: fnt(5.4), color: '#333', padding: 2 },
  xTicks: { font: fnt(5.4), color: '#333', padding: 1.8, rot: 0 },
  xTitle: { display: true, text: 'Outcomes', font: fnt(6.4), color: '#222', padding: { top: 0, bottom: 8.2 } },
  yTitle: { display: true, text: 'Study Outcomes', font: fnt(6.4), color: '#222', padding: { top: 3.2, bottom: 0 } },
  frame: { color: '#999', width: 1.5 }
});
colorbar(canvasAt(1008, 1640, 30, 170), {
  stops: YLGNBU, min: 0.1, max: 0.6, ticks: studyTicks, fmt: v => v.toFixed(1), font: fnt(5.3), color: '#333',
  pad: { left: 5, top: 17, bottom: 25 }, w: 18, frame: { color: '#999', width: 1 }
});
</script>
</body>
</html>
